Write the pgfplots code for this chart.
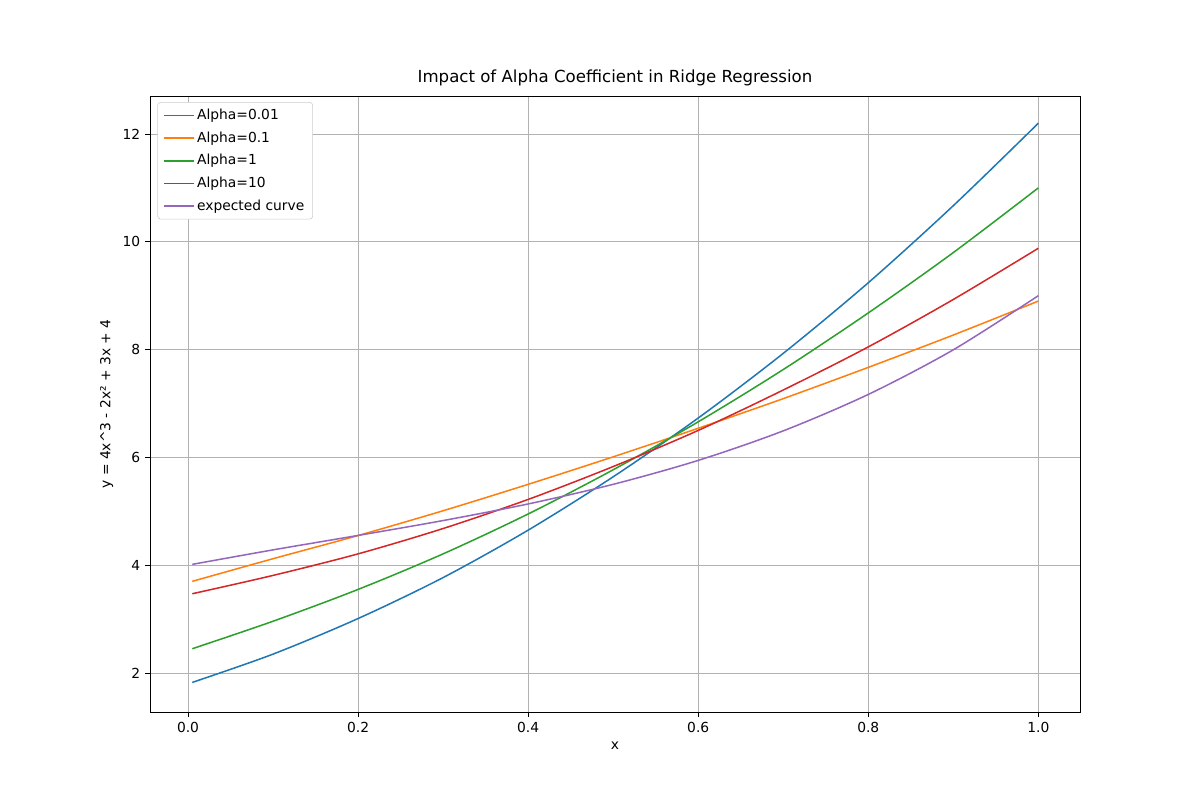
\documentclass[border=0pt]{standalone}
\usepackage{fontspec}
\setmainfont{DejaVu Sans}
\usepackage{pgfplots}
\pgfplotsset{compat=1.18}
\definecolor{c0}{HTML}{1F77B4}
\definecolor{c1}{HTML}{FF7F0E}
\definecolor{c2}{HTML}{2CA02C}
\definecolor{c3}{HTML}{D62728}
\definecolor{c4}{HTML}{9467BD}
\begin{document}
\begin{tikzpicture}
\path (-1.5in,-0.88in) rectangle (10.5in,7.12in);
\begin{axis}[at={(0,0)},anchor=south west,scale only axis,
width=9.3in,height=6.16in,
xmin=-0.0447,xmax=1.049,ymin=1.276,ymax=12.705,
xtick={0,0.2,...,1.0},ytick={2,4,...,12},
xticklabel style={/pgf/number format/.cd,fixed,fixed zerofill,precision=1},
/pgf/number format/assume math mode=true,
xtick pos=bottom,ytick pos=left,
grid=major,grid style={color=black!30,line width=0.6pt},
tick align=outside,major tick length=3.5pt,tick style={black,line width=0.6pt},
axis line style={line width=0.6pt},
ticklabel style={font=\fontsize{10}{12}\selectfont},
title={Impact of Alpha Coefficient in Ridge Regression},
title style={font=\fontsize{12}{14}\selectfont,yshift=-2pt},
xlabel={x},ylabel={y = 4x\^{}3 - 2x² + 3x + 4},
label style={font=\fontsize{10}{12}\selectfont},
legend style={font=\fontsize{10}{12}\selectfont,draw=black!20,rounded corners=2pt,
  row sep=3.2pt,at={(0.008,0.99)},anchor=north west,inner xsep=4pt,inner ysep=3pt},
legend image code/.code={\draw[#1] (0cm,0cm) -- (0.75cm,0cm);},
legend cell align=left,
every axis plot/.append style={line width=1.1pt,smooth,mark=none},
]
\addplot[c0] coordinates {(0.005,1.825)(0.1,2.35)(0.2,3.01)(0.3,3.77)(0.4,4.65)(0.5,5.64)(0.6,6.73)(0.7,7.93)(0.8,9.24)(0.9,10.67)(1.0,12.2)};
\addlegendentry{Alpha=0.01}
\addplot[c1] coordinates {(0.005,3.70)(0.1,4.12)(0.2,4.55)(0.3,5.01)(0.4,5.50)(0.5,6.01)(0.6,6.54)(0.7,7.09)(0.8,7.67)(0.9,8.27)(1.0,8.9)};
\addlegendentry{Alpha=0.1}
\addplot[c2] coordinates {(0.005,2.45)(0.1,2.96)(0.2,3.55)(0.3,4.21)(0.4,4.95)(0.5,5.77)(0.6,6.66)(0.7,7.63)(0.8,8.68)(0.9,9.80)(1.0,11.0)};
\addlegendentry{Alpha=1}
\addplot[c3] coordinates {(0.005,3.47)(0.1,3.81)(0.2,4.21)(0.3,4.68)(0.4,5.22)(0.5,5.83)(0.6,6.50)(0.7,7.25)(0.8,8.05)(0.9,8.93)(1.0,9.88)};
\addlegendentry{Alpha=10}
\addplot[c4] coordinates {(0.005,4.015)(0.1,4.284)(0.2,4.552)(0.3,4.828)(0.4,5.136)(0.5,5.5)(0.6,5.944)(0.7,6.492)(0.8,7.168)(0.9,7.996)(1.0,9.0)};
\addlegendentry{expected curve}
\end{axis}
\end{tikzpicture}
\end{document}
